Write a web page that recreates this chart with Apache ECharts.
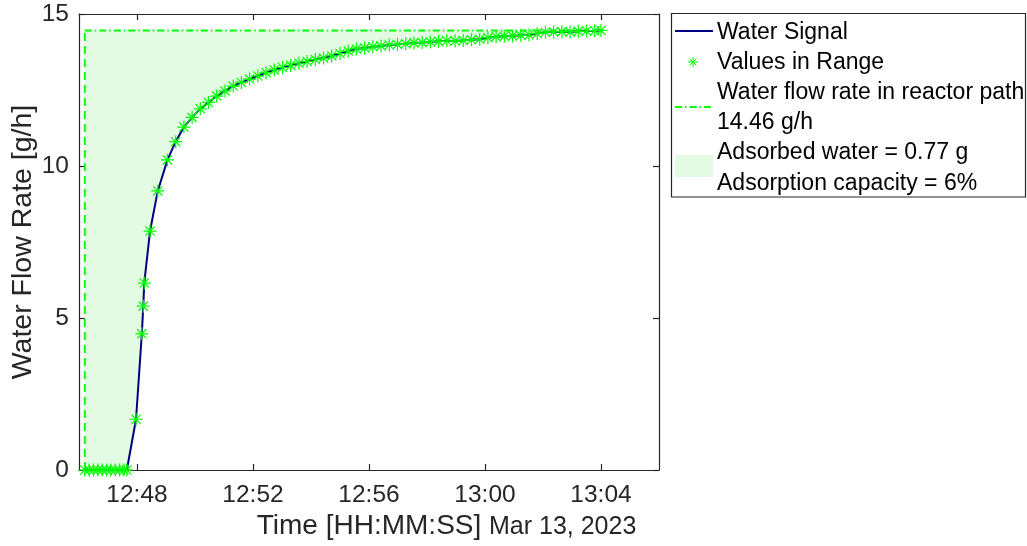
<!DOCTYPE html>
<html>
<head>
<meta charset="utf-8">
<script src="https://cdn.jsdelivr.net/npm/echarts@6/dist/echarts.min.js"></script>
<style>
html,body{margin:0;padding:0;background:#fff;}
#chart{width:1027px;height:546px;}
</style>
</head>
<body>
<div id="chart"></div>
<script>
// ---- data ----
const sigTimes = [
  '12:46:12','12:46:21','12:46:30','12:46:39','12:46:48','12:46:57','12:47:06','12:47:15','12:47:24','12:47:33','12:47:39',
  '12:47:58','12:48:10','12:48:13','12:48:15','12:48:27','12:48:43',
  '12:49:03','12:49:20','12:49:37','12:49:54','12:50:11','12:50:28','12:50:45','12:51:02','12:51:19','12:51:36',
  '12:51:53','12:52:10','12:52:27','12:52:44','12:53:01','12:53:18','12:53:35','12:53:52','12:54:09','12:54:26',
  '12:54:43','12:55:00','12:55:17','12:55:34','12:55:51','12:56:08','12:56:25','12:56:42','12:56:59','12:57:16',
  '12:57:33','12:57:50','12:58:07','12:58:24','12:58:41','12:58:58','12:59:15','12:59:32','12:59:49','13:00:06',
  '13:00:23','13:00:40','13:00:57','13:01:14','13:01:31','13:01:48','13:02:05','13:02:22','13:02:39','13:02:56',
  '13:03:13','13:03:30','13:03:47','13:04:00'
];
const sigValues = [
  0,0,0,0,0,0,0,0,0,0,0,
  1.67,4.48,5.39,6.15,7.86,9.18,
  10.20,10.80,11.28,11.60,11.88,12.09,12.30,12.47,12.63,12.75,
  12.86,12.96,13.07,13.16,13.24,13.31,13.38,13.44,13.50,13.55,
  13.62,13.70,13.78,13.85,13.88,13.92,13.95,13.98,14.00,14.02,
  14.05,14.06,14.08,14.10,14.12,14.11,14.13,14.15,14.17,14.22,
  14.25,14.27,14.28,14.30,14.31,14.36,14.40,14.41,14.42,14.41,
  14.43,14.44,14.45,14.46
];
const refFlow = 14.46;
const refStart = '12:46:12';
const refEnd = '13:04:00';
const xTickLabels = ['12:48','12:52','12:56','13:00','13:04'];
const xRange = ['12:46','13:06'];
const dateLabel = 'Mar 13, 2023';
const legendTexts = ['Water Signal','Values in Range','Water flow rate in reactor path','14.46 g/h','Adsorbed water = 0.77 g','Adsorption capacity = 6%'];

// ---- helpers ----
function toMin(s){ const p = s.split(':').map(Number); return (p[0]-12)*60 + p[1] + (p[2]||0)/60; }
function fmt(v){ const t = Math.round(v); const h = 12 + Math.floor(t/60); const m = t % 60; return h + ':' + (m<10?'0':'') + m; }

const xs = sigTimes.map(toMin);
const sigData = xs.map((x,i)=>[x, sigValues[i]]);
const tickVals = xTickLabels.map(toMin);

const FONT = '"Liberation Sans", Arial, Helvetica, sans-serif';
const AX = '#262626';
const GREEN = '#00ff00';
const BLUE = '#000080';
const FILL = '#e3fbe3';
const STAR = 'path://M0,-10L0,10M-10,0L10,0M-7.07,-7.07L7.07,7.07M-7.07,7.07L7.07,-7.07';

const chart = echarts.init(document.getElementById('chart'), null, {renderer:'canvas'});

const lgX = 675, lgT = 717;
function lgText(t, y){ return {type:'text', z:11, x: lgT, y: y, style:{text:t, font:'23px ' + FONT, fill:'#000', textVerticalAlign:'middle', verticalAlign:'middle'}}; }
function seg(x1,y1,x2,y2,color,w,dash){ return {type:'line', z:11, shape:{x1:x1,y1:y1,x2:x2,y2:y2}, style:{stroke:color, lineWidth:w, lineDash:dash||null}}; }

chart.setOption({
  animation:false,
  backgroundColor:'#fff',
  grid:{left:79, right:368, top:14, bottom:76, containLabel:false, outerBoundsMode:'none'},
  xAxis:[{
    type:'value', min:toMin(xRange[0]), max:toMin(xRange[1]),
    axisLine:{show:true, onZero:false, lineStyle:{color:AX, width:1.2}},
    axisTick:{show:true, inside:true, length:6, customValues:tickVals, lineStyle:{color:AX, width:1.2}},
    axisLabel:{customValues:tickVals, formatter:fmt, color:AX, fontSize:24.5, fontFamily:FONT, margin:13},
    splitLine:{show:false},
    name:'Time [HH:MM:SS]', nameLocation:'middle', nameGap:42, nameMoveOverlap:false,
    nameTextStyle:{color:AX, fontSize:28, fontFamily:FONT}
  },{
    type:'value', position:'top', min:toMin(xRange[0]), max:toMin(xRange[1]),
    axisLine:{show:true, onZero:false, lineStyle:{color:AX, width:1.2}},
    axisTick:{show:true, inside:true, length:6, customValues:tickVals, lineStyle:{color:AX, width:1.2}},
    axisLabel:{show:false}, splitLine:{show:false}
  }],
  yAxis:[{
    type:'value', min:0, max:15, interval:5,
    axisLine:{show:true, onZero:false, lineStyle:{color:AX, width:1.2}},
    axisTick:{show:true, inside:true, length:6, lineStyle:{color:AX, width:1.2}},
    axisLabel:{color:AX, fontSize:24.5, fontFamily:FONT, margin:10},
    splitLine:{show:false},
    name:'Water Flow Rate [g/h]', nameLocation:'middle', nameGap:41, nameRotate:90, nameMoveOverlap:false,
    nameTextStyle:{color:AX, fontSize:28.5, fontFamily:FONT}
  },{
    type:'value', position:'right', min:0, max:15, interval:5,
    axisLine:{show:true, onZero:false, lineStyle:{color:AX, width:1.2}},
    axisTick:{show:true, inside:true, length:6, lineStyle:{color:AX, width:1.2}},
    axisLabel:{show:false}, splitLine:{show:false}
  }],
  series:[
    {type:'line', name:'adsorbed', data:sigData, symbol:'none', lineStyle:{opacity:0},
      areaStyle:{color:FILL, opacity:1, origin:refFlow}, silent:true, z:1},
    {type:'line', name:'refH', data:[[toMin(refStart), refFlow],[toMin(refEnd), refFlow]], symbol:'none',
      lineStyle:{color:GREEN, width:2, type:[7,3,1.5,3]}, z:3},
    {type:'line', name:'refV', data:[[toMin(refStart), 0],[toMin(refStart), refFlow]], symbol:'none',
      lineStyle:{color:GREEN, width:1.8, type:[8,5]}, z:3},
    {type:'line', name:'Water Signal', data:sigData, symbol:'none', lineStyle:{color:BLUE, width:2}, z:4},
    {type:'scatter', name:'Values in Range', data:sigData, symbol:STAR, symbolSize:13,
      itemStyle:{color:'rgba(0,0,0,0)', borderColor:GREEN, borderWidth:1.2, opacity:1}, z:5}
  ],
  graphic:[
    {type:'text', z:11, x:489, y:527, style:{text:dateLabel, font:'25px ' + FONT, fill:AX, verticalAlign:'middle', textVerticalAlign:'middle'}},
    {type:'rect', z:10, shape:{x:671.5, y:13.5, width:354, height:183.5}, style:{fill:'#fff', stroke:AX, lineWidth:1.2}},
    seg(lgX,31,713,31,BLUE,2),
    seg(693,57,693,67,GREEN,1),
    seg(688,62,698,62,GREEN,1),
    seg(689.5,58.5,696.5,65.5,GREEN,1),
    seg(689.5,65.5,696.5,58.5,GREEN,1),
    seg(lgX,107,713,107,GREEN,2,[7,3,1.5,3]),
    {type:'rect', z:11, shape:{x:lgX, y:155, width:38, height:22}, style:{fill:FILL}},
    lgText(legendTexts[0], 33),
    lgText(legendTexts[1], 63),
    lgText(legendTexts[2], 93),
    lgText(legendTexts[3], 123),
    lgText(legendTexts[4], 153),
    lgText(legendTexts[5], 184)
  ]
});
</script>
</body>
</html>
